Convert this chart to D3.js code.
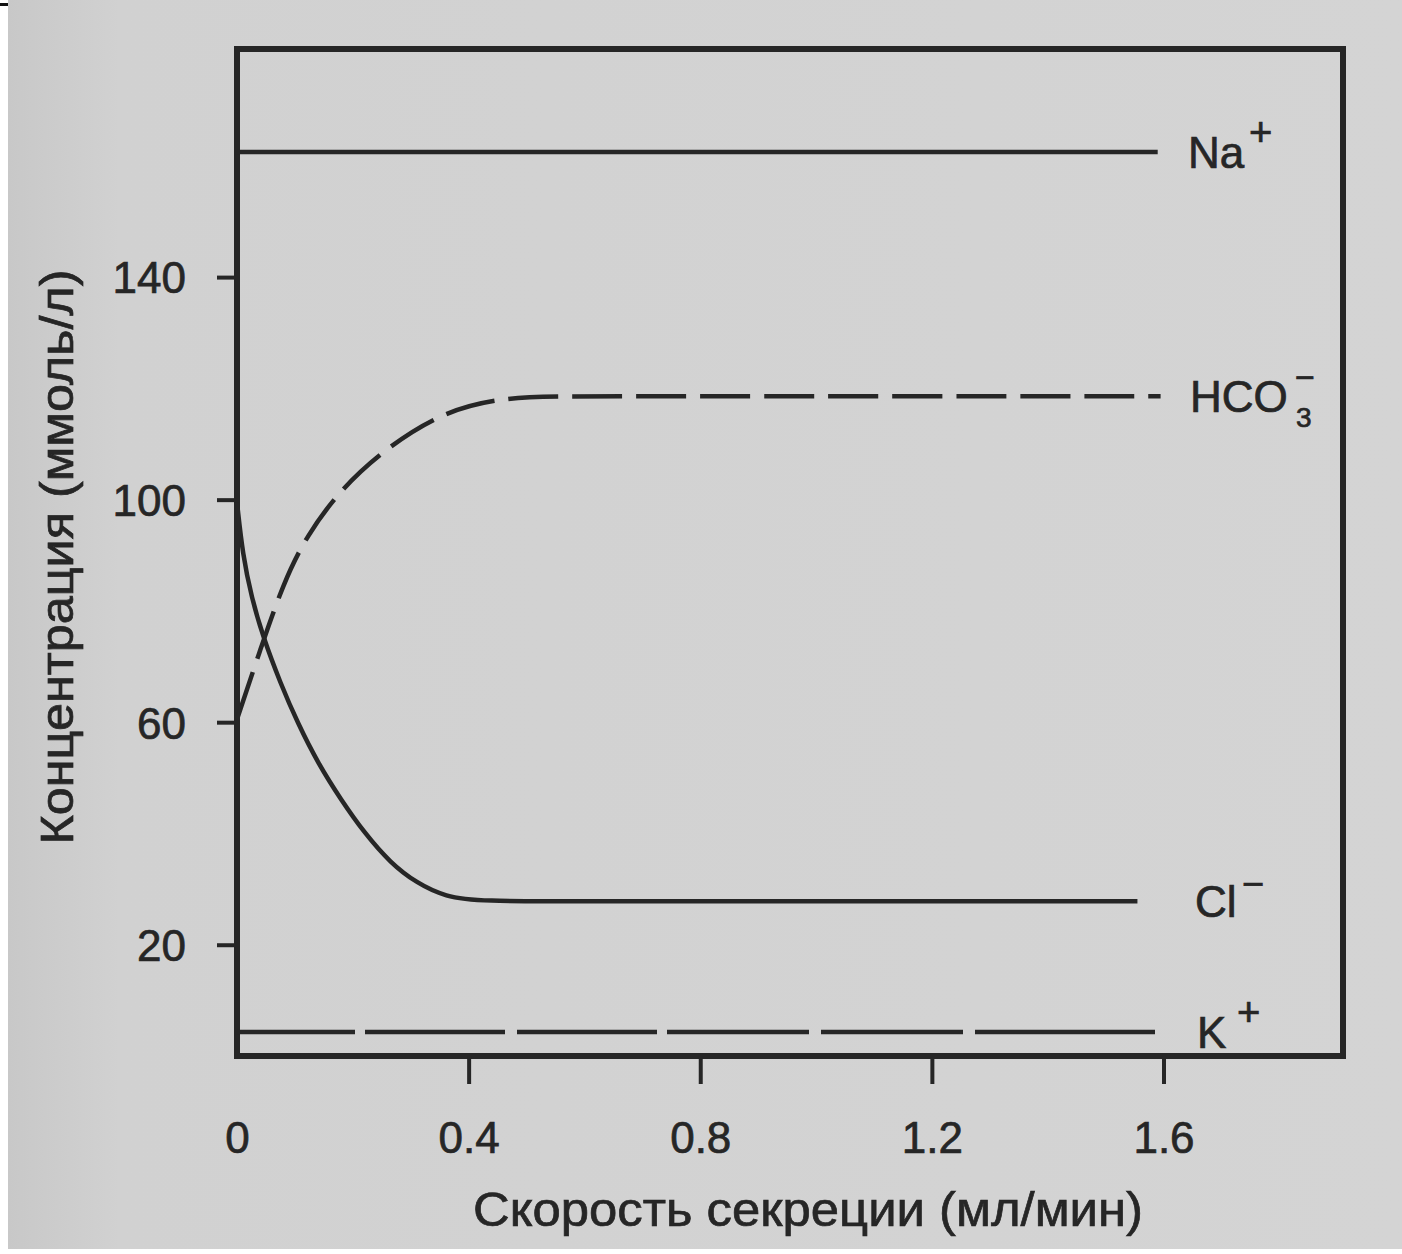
<!DOCTYPE html>
<html>
<head>
<meta charset="utf-8">
<script src="https://cdn.jsdelivr.net/npm/d3@7"></script>
<style>
  html, body { margin: 0; padding: 0; background: #ffffff; }
  svg { display: block; }
  text { font-family: "Liberation Sans", Arial, Helvetica, sans-serif; fill: #262626; stroke: #262626; stroke-width: 0.7px; }
</style>
</head>
<body>
<svg id="chart" width="1402" height="1254"></svg>
<script>
// ---- data ----
const naX   = [0, 1.59];
const naY   = [162.5, 162.5];

const hco3X = [0, 0.04, 0.08, 0.12, 0.18, 0.26, 0.36, 0.46, 0.55, 0.8, 1.2, 1.595];
const hco3Y = [60.5, 73, 85, 93.5, 102, 109.5, 116, 118.3, 118.6, 118.6, 118.6, 118.6];

const clX   = [0, 0.01, 0.025, 0.045, 0.075, 0.105, 0.14, 0.18, 0.22, 0.265, 0.31, 0.36, 0.42, 0.6, 1.0, 1.555];
const clY   = [99.5, 90, 82.5, 75.3, 67, 59.8, 52.6, 46, 40.1, 34.7, 31.1, 28.6, 27.8, 27.8, 27.8, 27.8];

const kX    = [0, 1.59];
const kY    = [4.3, 4.3];

const xTickValues = [0, 0.4, 0.8, 1.2, 1.6];
const xTickLabels = ["0", "0.4", "0.8", "1.2", "1.6"];
const yTickValues = [20, 60, 100, 140];
const yTickLabels = ["20", "60", "100", "140"];

const xTitle = "Скорость секреции (мл/мин)";
const yTitle = "Концентрация (ммоль/л)";

// ---- drawing ----
const svg = d3.select("#chart");
const ink = "#262626";

// paper background (scanned page)
const grad = svg.append("defs").append("linearGradient")
  .attr("id", "paper").attr("x1", "0").attr("x2", "1").attr("y1", "0").attr("y2", "0");
grad.append("stop").attr("offset", "0").attr("stop-color", "#c8c8c8");
grad.append("stop").attr("offset", "0.08").attr("stop-color", "#d1d1d1");
grad.append("stop").attr("offset", "1").attr("stop-color", "#d4d4d4");
svg.append("rect").attr("x", 8).attr("y", 0).attr("width", 1394).attr("height", 1249).attr("fill", "url(#paper)");
svg.append("rect").attr("x", 0).attr("y", 3).attr("width", 8).attr("height", 3).attr("fill", "#111");

const x = d3.scaleLinear().domain([0, 1.91]).range([237, 1343]);
const y = d3.scaleLinear().domain([0, 181]).range([1056, 49]);

// frame
svg.append("rect")
  .attr("x", x(0)).attr("y", y(181))
  .attr("width", x(1.91) - x(0)).attr("height", y(0) - y(181))
  .attr("fill", "none").attr("stroke", ink).attr("stroke-width", 6);

// y axis
const yAxis = d3.axisLeft(y).tickValues(yTickValues)
  .tickFormat((d, i) => yTickLabels[i]).tickSize(20).tickPadding(31);
const gy = svg.append("g").attr("transform", `translate(${x(0)},0)`).call(yAxis);
gy.select(".domain").remove();
gy.selectAll(".tick line").attr("stroke", ink).attr("stroke-width", 4);
gy.selectAll(".tick text").style("font-size", "44px").attr("fill", ink).attr("dy", "0.36em");

// x axis
const xAxis = d3.axisBottom(x).tickValues(xTickValues)
  .tickFormat((d, i) => xTickLabels[i]).tickSize(28).tickPadding(38);
const gx = svg.append("g").attr("transform", `translate(0,${y(0)})`).call(xAxis);
gx.select(".domain").remove();
gx.selectAll(".tick line").attr("stroke", ink).attr("stroke-width", 4)
  .attr("opacity", d => d === 0 ? 0 : 1);
gx.selectAll(".tick text").style("font-size", "44px").attr("fill", ink);

// axis titles
svg.append("text")
  .attr("x", 808).attr("y", 1226).attr("text-anchor", "middle")
  .style("font-size", "48px")
  .attr("textLength", 670).attr("lengthAdjust", "spacingAndGlyphs")
  .text(xTitle);
svg.append("text")
  .attr("transform", "translate(73,557) rotate(-90)")
  .attr("text-anchor", "middle")
  .style("font-size", "46px")
  .attr("textLength", 575).attr("lengthAdjust", "spacingAndGlyphs")
  .text(yTitle);

// series
function series(xs, ys) { return xs.map((v, i) => [v, ys[i]]); }
const line = d3.line().x(d => x(d[0])).y(d => y(d[1])).curve(d3.curveBasis);

const lines = [
  { data: series(naX, naY), dash: null },
  { data: series(hco3X, hco3Y), dash: "50,14" },
  { data: series(clX, clY), dash: null },
  { data: series(kX, kY), dash: "118,10,140,12,140,10,142,12,142,12,180" }
];
svg.append("g").selectAll("path").data(lines).join("path")
  .attr("d", d => line(d.data))
  .attr("fill", "none").attr("stroke", ink).attr("stroke-width", 4.5)
  .attr("stroke-dasharray", d => d.dash);

// ion labels
const lab = svg.append("g").style("font-size", "44px");
function ionLabel(base, xPos, yVal) {
  const by = y(yVal) + 16;
  lab.append("text").attr("x", xPos).attr("y", by).text(base);
  return by;
}
// Na+
let b = ionLabel("Na", 1188, naY[0]);
lab.append("text").attr("x", 1249).attr("y", b - 22).style("font-size", "40px").text("+");
// HCO3-
b = ionLabel("HCO", 1190, hco3Y[hco3Y.length - 1]);
lab.append("text").attr("x", 1296).attr("y", b + 15).style("font-size", "28px").text("3");
lab.append("text").attr("x", 1295).attr("y", b - 23).style("font-size", "34px").text("−");
// Cl-
b = ionLabel("Cl", 1195, clY[clY.length - 1]);
lab.append("text").attr("x", 1242).attr("y", b - 20).style("font-size", "38px").text("−");
// K+
b = ionLabel("K", 1197, kY[0]);
lab.append("text").attr("x", 1237).attr("y", b - 22).style("font-size", "40px").text("+");
</script>
</body>
</html>
